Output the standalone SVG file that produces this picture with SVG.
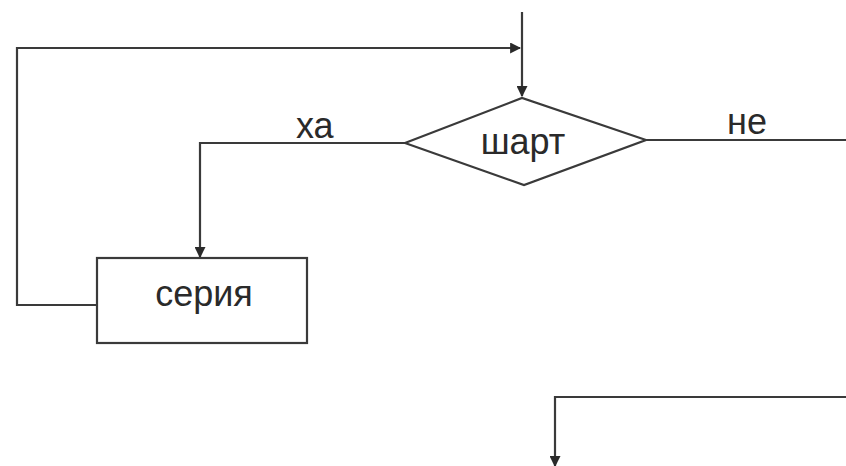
<svg xmlns="http://www.w3.org/2000/svg" width="846" height="466" viewBox="0 0 846 466">
<style>
.ln{fill:none;stroke:#3a3a3a;stroke-width:2.2}
.sh{fill:#fff;stroke:#3a3a3a;stroke-width:2.2}
.t{font-family:"Liberation Sans",Arial,sans-serif;fill:#2a2a2a;font-size:36px}
</style>
<defs>
<marker id="ah" viewBox="0 0 10 10" refX="9" refY="5" markerWidth="5" markerHeight="5" orient="auto" markerUnits="strokeWidth">
<path d="M0,0 L10,5 L0,10 z" fill="#2a2a2a"/>
</marker>
</defs>
<rect width="846" height="466" fill="#fff"/>
<g id="connectors">
<path class="ln" d="M522,12 V96" marker-end="url(#ah)"/>
<path class="ln" d="M97,305 H17 V48 H520" marker-end="url(#ah)"/>
<path class="ln" d="M405,143 H200 V257" marker-end="url(#ah)"/>
<path class="ln" d="M646,140 H846"/>
<path class="ln" d="M846,397 H555 V466" marker-end="url(#ah)"/>
</g>
<g id="cond">
<polygon class="sh" points="405,143 522,98 646,140 524,185"/>
<text class="t" x="523" y="154" text-anchor="middle">шарт</text>
</g>
<g id="series">
<rect class="sh" x="97" y="258" width="210" height="85"/>
<text class="t" x="204" y="306" text-anchor="middle">серия</text>
</g>
<text class="t" x="296" y="138">ха</text>
<text class="t" x="727" y="134">не</text>
</svg>
